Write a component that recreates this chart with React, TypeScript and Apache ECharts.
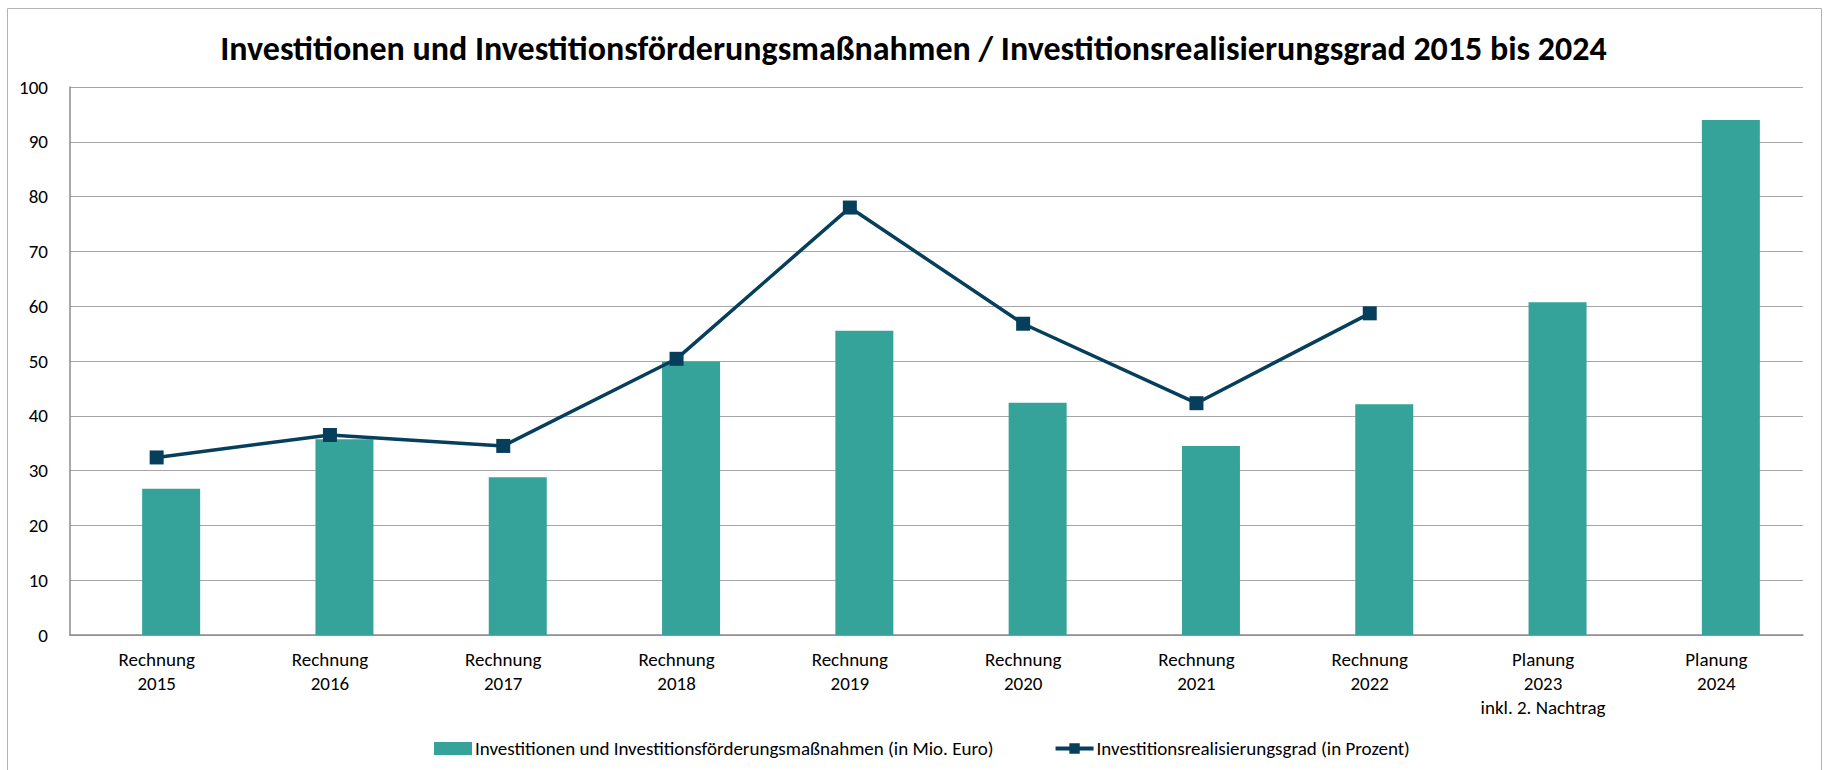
import React, { useEffect, useRef } from "react";
import * as echarts from "echarts";

const categories = [
  "Rechnung\n2015",
  "Rechnung\n2016",
  "Rechnung\n2017",
  "Rechnung\n2018",
  "Rechnung\n2019",
  "Rechnung\n2020",
  "Rechnung\n2021",
  "Rechnung\n2022",
  "Planung\n2023\ninkl. 2. Nachtrag",
  "Planung\n2024",
];

const investitionen = [26.7, 35.7, 28.8, 49.9, 55.5, 42.4, 34.5, 42.1, 60.7, 94.0];
const realisierungsgrad: (number | null)[] = [32.4, 36.5, 34.5, 50.4, 78.0, 56.8, 42.3, 58.7, null, null];
const emptySlot: (number | null)[] = categories.map(() => null);

const barName = "Investitionen und Investitionsförderungsmaßnahmen (in Mio. Euro)";
const lineName = "Investitionsrealisierungsgrad (in Prozent)";
const titleText =
  "Investitionen und Investitionsförderungsmaßnahmen / Investitionsrealisierungsgrad 2015 bis 2024";

const FONT = "Carlito, Lato, 'Open Sans', sans-serif";

export default function App() {
  const ref = useRef<HTMLDivElement>(null);
  useEffect(() => {
    if (!ref.current) return;
    const chart = echarts.init(ref.current, null, { renderer: "svg" });
    chart.setOption({
      animation: false,
      backgroundColor: "#ffffff",
      textStyle: { fontFamily: FONT, color: "#000" },
      title: {
        text: titleText,
        left: "center",
        top: 26,
        textStyle: { fontFamily: FONT, fontSize: 34, fontWeight: "bold", color: "#000" },
      },
      graphic: [
        {
          type: "rect",
          shape: { x: 7.5, y: 8.5, width: 1814, height: 800 },
          style: { fill: "none", stroke: "#b3b3b3", lineWidth: 1 },
          silent: true,
        },
      ],
      legend: {
        left: 429,
        top: 734,
        itemWidth: 38,
        itemHeight: 13,
        itemGap: 60,
        data: [
          { name: barName, icon: "rect", itemStyle: { color: "#35a399" } },
          {
            name: lineName,
            lineStyle: { width: 4, color: "#063f5c" },
            itemStyle: { color: "#063f5c" },
          },
        ],
        textStyle: { fontFamily: FONT, fontSize: 19, color: "#000", padding: [0, 0, 0, -2] },
      },
      grid: { left: 70, right: 24, top: 87, bottom: 135, containLabel: false },
      xAxis: {
        type: "category",
        data: categories,
        axisLine: { show: true, lineStyle: { color: "#8f8a8f", width: 1.5 } },
        axisTick: { show: false },
        axisLabel: {
          fontFamily: FONT,
          fontSize: 19,
          color: "#000",
          lineHeight: 24,
          margin: 12,
          interval: 0,
        },
      },
      yAxis: {
        type: "value",
        min: 0,
        max: 100,
        interval: 10,
        axisLine: { show: true, lineStyle: { color: "#8f8a8f", width: 1.5 } },
        axisTick: { show: false },
        splitLine: { lineStyle: { color: "#a8a5a8", width: 1.2 } },
        axisLabel: { fontFamily: FONT, fontSize: 19, color: "#000", margin: 22 },
      },
      series: [
        {
          name: "_slot",
          type: "bar",
          data: emptySlot,
          barWidth: 58,
          barGap: "-50%",
          silent: true,
        },
        {
          name: barName,
          type: "bar",
          data: investitionen,
          barWidth: 58,
          barGap: "-50%",
          itemStyle: { color: "#35a399" },
        },
        {
          name: lineName,
          type: "line",
          data: realisierungsgrad,
          symbol: "rect",
          symbolSize: 14,
          z: 5,
          lineStyle: { color: "#063f5c", width: 3.5 },
          itemStyle: { color: "#063f5c" },
        },
      ],
    });
    return () => chart.dispose();
  }, []);
  return (
    <div
      ref={ref}
      style={{ position: "absolute", left: 0, top: 0, width: 1827, height: 770 }}
    />
  );
}
